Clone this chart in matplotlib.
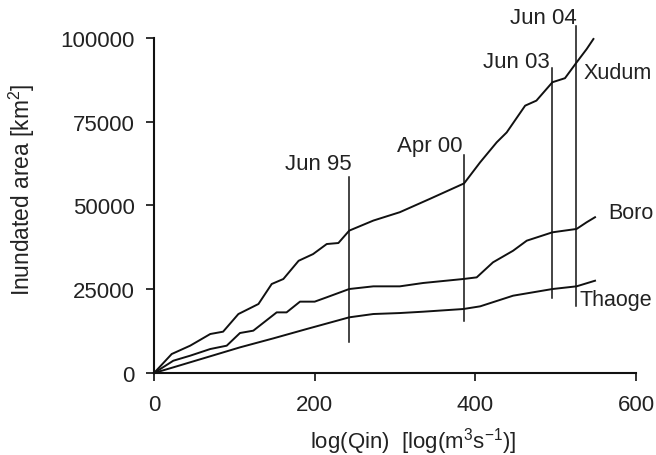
import matplotlib
matplotlib.use("Agg")
import matplotlib.pyplot as plt

plt.rcParams["font.family"] = ["Liberation Sans", "DejaVu Sans"]
plt.rcParams["mathtext.fontset"] = "custom"
plt.rcParams["mathtext.rm"] = "Liberation Sans"
plt.rcParams["mathtext.it"] = "Liberation Sans:italic"
plt.rcParams["mathtext.bf"] = "Liberation Sans:bold"

# Cumulative inundated area per channel
xudum_x = [0, 22, 45, 70, 86, 105, 130, 146.5, 161, 180, 198, 215, 229.5, 243,
           273, 306, 343.6, 376.8, 386, 406, 426.6, 439, 462, 476, 496, 511.6,
           526, 538.6, 547]
xudum_y = [0, 5670, 8160, 11640, 12340, 17600, 20600, 26570, 28060, 33500,
           35500, 38500, 38800, 42500, 45500, 48000, 52000, 55600, 56600,
           62900, 68860, 71800, 79800, 81300, 86800, 88000, 92700, 96700, 99700]

boro_x = [0, 24, 45, 70, 90.5, 107, 123.6, 152.7, 165, 181.7, 200, 215, 243,
          273, 306, 335, 385, 401.7, 422, 447, 464, 496, 526, 538.6, 549]
boro_y = [0, 3670, 5170, 7160, 8160, 11940, 12640, 18100, 18100, 21300, 21300,
          22600, 25070, 25870, 25870, 26870, 28060, 28550, 33040, 36500,
          39500, 42000, 43000, 45000, 46500]

thaoge_x = [0, 24, 65.6, 107, 148.5, 190, 243, 273, 306, 335, 385, 406, 447,
            496, 526, 549]
thaoge_y = [0, 1690, 4680, 7660, 10340, 13130, 16620, 17610, 17900, 18300,
            19100, 19900, 23080, 25070, 25870, 27550]

# Flood events marked with vertical lines
event_labels = ["Jun 95", "Apr 00", "Jun 03", "Jun 04"]
event_x = [243, 386, 496, 525.5]
event_bottom = [9250, 15500, 22400, 20000]
event_top = [58500, 65000, 91000, 103600]
event_text_x = [246.5, 383.4, 493, 526.6]
event_text_y = [60900, 66300, 91400, 104500]

curve_names = ["Xudum", "Boro", "Thaoge"]
curve_label_x = [535, 566, 530]
curve_label_y = [89800, 48000, 22000]

fig = plt.figure(figsize=(6.56, 4.56), dpi=100)
ax = fig.add_axes([0.2348, 0.1798, 0.7347, 0.7347])

lw = 1.4
for xs, ys in [(xudum_x, xudum_y), (boro_x, boro_y), (thaoge_x, thaoge_y)]:
    ax.plot(xs, ys, color="#111111", lw=lw, clip_on=False)

for x, b, t in zip(event_x, event_bottom, event_top):
    ax.plot([x, x], [b, t], color="#111111", lw=1.1, clip_on=False)

for lab, tx, ty in zip(event_labels, event_text_x, event_text_y):
    ax.text(tx, ty, lab, ha="right", va="baseline", fontsize=16,
            color="#222222", clip_on=False)

for name, tx, ty in zip(curve_names, curve_label_x, curve_label_y):
    ax.text(tx, ty, name, ha="left", va="center", fontsize=15.5,
            color="#222222", clip_on=False)

ax.set_xlim(0, 600)
ax.set_ylim(0, 100000)
ax.set_xticks([0, 200, 400, 600])
ax.set_yticks([0, 25000, 50000, 75000, 100000])
ax.tick_params(axis="x", labelsize=16, length=6, width=1.3, pad=9,
               colors="#222222")
ax.tick_params(axis="y", labelsize=16, length=6, width=1.3, pad=8,
               colors="#222222")

for side in ["top", "right"]:
    ax.spines[side].set_visible(False)
for side in ["left", "bottom"]:
    ax.spines[side].set_linewidth(1.5)
    ax.spines[side].set_color("#111111")

ax.set_xlabel(r"log(Qin)  [log(m$^3$s$^{-1}$)]", fontsize=16, color="#222222",
              va="top")
ax.xaxis.set_label_coords(0.537, -0.155)
ax.set_ylabel(r"Inundated area [km$^2$]", fontsize=16.4, color="#222222")
ax.yaxis.set_label_coords(-0.243, 0.55)

fig.savefig("out.png", dpi=100)
